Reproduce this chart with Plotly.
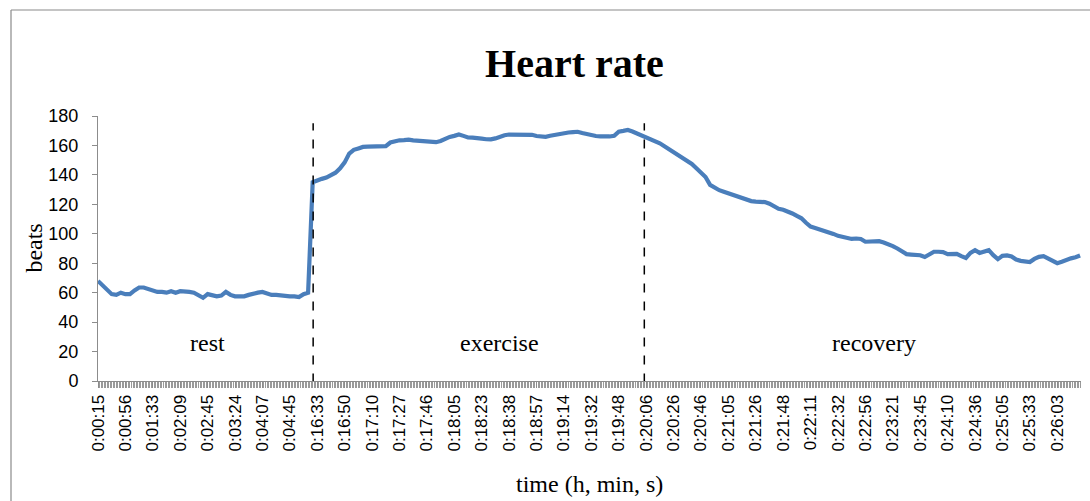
import plotly.graph_objects as go

# ---- data ----
tick_labels = ["0:00:15", "0:00:56", "0:01:33", "0:02:09", "0:02:45", "0:03:24",
               "0:04:07", "0:04:45", "0:16:33", "0:16:50", "0:17:10", "0:17:27",
               "0:17:46", "0:18:05", "0:18:23", "0:18:38", "0:18:57", "0:19:14",
               "0:19:32", "0:19:48", "0:20:06", "0:20:26", "0:20:46", "0:21:05",
               "0:21:26", "0:21:48", "0:22:11", "0:22:32", "0:22:56", "0:23:21",
               "0:23:45", "0:24:10", "0:24:36", "0:25:05", "0:25:33", "0:26:03"]
samples_per_label = 6

rest_beats = [68, 65, 61, 59, 58.5, 60, 59, 59, 61.5, 63.5, 63.5, 62.5, 61, 60.5,
              60.5, 60, 61, 60, 61, 61, 60.5, 60, 58.5, 56.5, 59, 58.5, 57.5, 58,
              60.5, 58.5, 57.5, 57.5, 57.5, 58.5, 59.5, 60, 60.5, 59.5, 58.5, 58.5,
              58, 57.5, 57.5, 57.5, 57, 59, 60]
exercise_beats = [135, 136.5, 137.3, 138.2, 139.8, 141.5, 144.5, 148.5, 154.5, 157,
                  158, 159, 159.2, 159.2, 159.2, 159.2, 159.5, 162, 163, 163.5,
                  163.6, 164, 163.5, 163.3, 163.3, 163, 162.5, 162.2, 163, 164.8,
                  165.8, 166.5, 167.5, 166.5, 165.4, 165.3, 165.2, 164.6, 164.2,
                  164.1, 164.8, 166.2, 166.9, 167.4, 167.5, 167.5, 167.5, 167.5,
                  167.2, 166.4, 166.1, 165.9, 166.6, 167.3, 167.9, 168.4, 168.8,
                  169.1, 169.3, 168.4, 167.5, 166.9, 166.4, 166.1, 165.9, 166.1,
                  166.6, 169.4, 169.9, 170.5, 169.5, 168.2, 166.8]
recovery_beats = [166, 164.6, 163, 161.5, 159.5, 157.5, 155.2, 153, 151, 149.4, 147.4,
                  144.5, 141.6, 138.6, 133.2, 131.2, 129.6, 128.5, 127.4, 126.4,
                  125.3, 124.1, 122.6, 122.2, 121.9, 121.7, 121.5, 120.4, 118.5, 117,
                  116.3, 115.4, 113.8, 112.1, 110.5, 107.5, 104.9, 104, 103.1, 102.1,
                  101.1, 99.9, 98.6, 97.7, 97.1, 96.5, 96.8, 96.5, 94.6, 94.8, 95.2,
                  95, 94.1, 93.1, 91.6, 90, 88, 86.2, 85.9, 85.6, 85.4, 84.2, 85.8,
                  87.8, 87.8, 87.6, 86.2, 86, 86.3, 84.8, 83.6, 87, 88.8, 87, 87.8,
                  88.9, 85.5, 82.8, 85, 85.3, 84.6, 82.5, 81.6, 80.9, 80.8, 82.9,
                  84.3, 84.8, 83, 81.2, 80, 81, 82.4, 83.3, 84, 85.2]
heart_rate = rest_beats + exercise_beats + recovery_beats
sample_index = list(range(len(heart_rate)))
tick_positions = [k * samples_per_label for k in range(len(tick_labels))]

phase_names = ["rest", "exercise", "recovery"]
phase_label_pos = [23.9, 87.8, 169.9]  # sample positions of the phase labels
phase_boundaries = [47.1, 119.6]       # sample positions of the dashed separators

# ---- figure ----
fig = go.Figure()
fig.add_trace(go.Scatter(
    x=sample_index, y=heart_rate, mode="lines",
    line=dict(color="#4A7EBB", width=4.2), showlegend=False, hoverinfo="skip",
))

for b in phase_boundaries:
    fig.add_shape(type="line", xref="x", yref="y", x0=b, x1=b, y0=-1, y1=175,
                  line=dict(color="black", width=1.5, dash="dash"))

for name, pos in zip(phase_names, phase_label_pos):
    fig.add_annotation(x=pos, y=26, xref="x", yref="y", text=name,
                       showarrow=False, xanchor="center", yanchor="middle",
                       font=dict(family="Liberation Serif", size=24, color="black"))

# axis titles as annotations
fig.add_annotation(text="beats", xref="paper", yref="paper", x=-0.066, y=0.5,
                   xanchor="center", yanchor="middle",
                   textangle=-90, showarrow=False,
                   font=dict(family="Liberation Serif", size=24, color="black"))
fig.add_annotation(text="time (h, min, s)", xref="paper", yref="paper", x=0.50,
                   y=-0.39, xanchor="center", yanchor="middle", showarrow=False,
                   font=dict(family="Liberation Serif", size=24, color="black"))

# outer chart border (left and top edges visible)
fig.add_shape(type="line", xref="paper", yref="paper", x0=-0.0885, x1=-0.0885,
              y0=-0.6, y1=1.400, line=dict(color="#8a8a8a", width=1.2))
fig.add_shape(type="line", xref="paper", yref="paper", x0=-0.0885, x1=1.05,
              y0=1.400, y1=1.400, line=dict(color="#8a8a8a", width=1.2))

fig.update_layout(
    width=1090, height=501,
    margin=dict(l=98, r=9, t=116, b=120),
    paper_bgcolor="white", plot_bgcolor="white",
    title=dict(text="<b>Heart rate</b>", x=0.527, xanchor="center", y=0.875,
               yanchor="middle",
               font=dict(family="Liberation Serif", size=40, color="black")),
    xaxis=dict(
        range=[0, sample_index[-1] + 0.2],
        tickmode="array", tickvals=tick_positions, ticktext=tick_labels,
        tickangle=-90, ticks="outside", ticklen=6, tickcolor="#8c8c8c",
        tickwidth=1,
        minor=dict(dtick=1 / 3, ticks="outside", ticklen=6, tickcolor="#9a9a9a",
                   tickwidth=1, showgrid=False),
        showline=True, linecolor="#8c8c8c", linewidth=1,
        showgrid=False, zeroline=False,
        tickfont=dict(family="Liberation Sans", size=17, color="black"),
    ),
    yaxis=dict(
        range=[0, 180], dtick=20, ticks="outside", ticklen=5,
        tickcolor="#8c8c8c", showline=True, linecolor="#8c8c8c", linewidth=1,
        showgrid=False, zeroline=False, ticklabelstandoff=10,
        tickfont=dict(family="Liberation Sans", size=18, color="black"),
    ),
)

fig.write_html(
    "out.html",
    config={"displayModeBar": False},
    post_script="document.body.style.margin='0';document.body.style.overflow='hidden';",
)
